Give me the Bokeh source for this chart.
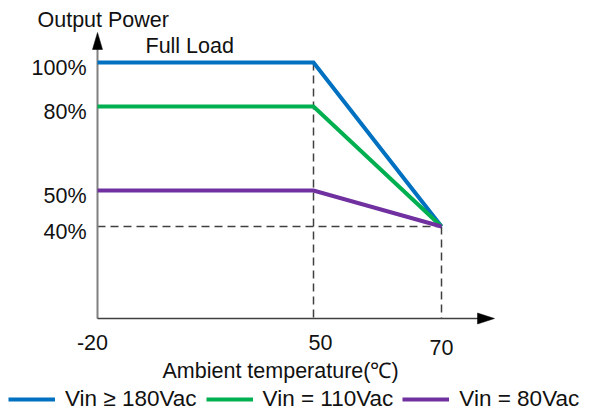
import numpy as np
from bokeh.plotting import figure
from bokeh.models import Range1d, Legend, LegendItem
from bokeh.core.properties import value
from bokeh.embed import file_html
from bokeh.resources import INLINE

# ---------------- data ----------------
temperature = [-20, 50, 70]
vin_180 = [100, 100, 40]
vin_110 = [80, 80, 40]
vin_80 = [50, 50, 40]
series_names = ["Vin \u2265 180Vac", "Vin = 110Vac", "Vin = 80Vac"]

x_ticks = [-20, 50, 70]
x_tick_labels = ["-20", "50", "70"]
y_ticks = [40, 50, 80, 100]
y_tick_labels = ["40%", "50%", "80%", "100%"]

y_title = "Output Power"
x_title = "Ambient temperature(\u2103)"
note = "Full Load"

# ---------------- layout / style (schematic, non-linear axes) ----------------
X_TICK_PX = [97, 313, 441]          # where each x tick sits on the picture
Y_TICK_PX = [226, 190, 106, 62]     # where each y tick sits on the picture
AXIS_Y = 318                        # row of the horizontal axis
X_AXIS_END = 494
Y_AXIS_END = 32
X_LABEL_DX = [-5, 7, 0]
X_LABEL_BASE = [342, 342, 347]
FONT = "Liberation Sans"
FS = "21.5px"
COLORS = ["#0070C0", "#00B050", "#7030A0"]


def sx(v):
    return np.interp(v, x_ticks, X_TICK_PX)


def sy(v):
    return np.interp(v, y_ticks, Y_TICK_PX)


p = figure(width=589, height=412, x_range=Range1d(0, 589), y_range=Range1d(412, 0),
           x_axis_type=None, y_axis_type=None, min_border=0,
           toolbar_location=None, output_backend="svg")
p.outline_line_color = None
p.background_fill_color = "white"

# dashed guide lines
t_knee, t_max = temperature[1], temperature[2]
p_min = vin_180[2]
p.segment(x0=[sx(t_knee), sx(t_max), sx(temperature[0])],
          y0=[sy(vin_180[1]), sy(p_min), sy(p_min)],
          x1=[sx(t_knee), sx(t_max), sx(t_max)],
          y1=[AXIS_Y, AXIS_Y, sy(p_min)],
          line_color="#404040", line_width=1.5, line_dash="8 5")

# axes
x0 = sx(temperature[0])
p.segment(x0=[x0], y0=[AXIS_Y], x1=[x0], y1=[Y_AXIS_END + 10], line_color="#808080", line_width=2)
p.segment(x0=[x0], y0=[AXIS_Y], x1=[X_AXIS_END - 10], y1=[AXIS_Y], line_color="#404040", line_width=1.5)
p.patches(xs=[[x0, x0 - 5, x0 + 5], [X_AXIS_END, X_AXIS_END - 17, X_AXIS_END - 17]],
          ys=[[Y_AXIS_END, Y_AXIS_END + 17, Y_AXIS_END + 17], [AXIS_Y, AXIS_Y - 5.5, AXIS_Y + 5.5]],
          fill_color="black", line_color="black", line_width=0.5)

# series
renderers = []
for vals, c in zip([vin_180, vin_110, vin_80], COLORS):
    r = p.line(x=sx(temperature), y=sy(vals), line_color=c, line_width=4, line_join="miter")
    renderers.append(r)

# tick labels
p.text(x=[86] * len(y_ticks), y=[sy(v) + 5 for v in y_ticks], text=y_tick_labels,
       text_font=value(FONT), text_font_size=FS, text_align="right",
       text_baseline="alphabetic", text_color="#111111")
p.text(x=[sx(v) + d for v, d in zip(x_ticks, X_LABEL_DX)], y=X_LABEL_BASE, text=x_tick_labels,
       text_font=value(FONT), text_font_size=FS, text_align="center",
       text_baseline="alphabetic", text_color="#111111")

# titles
p.text(x=[37], y=[19], text=[y_title], text_font=value(FONT), text_font_size=FS,
       text_align="left", text_baseline="alphabetic", text_color="#111111")
p.text(x=[145], y=[45], text=[note], text_font=value(FONT), text_font_size=FS,
       text_align="left", text_baseline="alphabetic", text_color="#111111")
p.text(x=[162], y=[370], text=[x_title], text_font=value(FONT), text_font_size=FS,
       text_align="left", text_baseline="alphabetic", text_color="#111111")

legend = Legend(items=[LegendItem(label=n, renderers=[r]) for n, r in zip(series_names, renderers)],
                orientation="horizontal", location=(8, 0), glyph_width=47, glyph_height=20,
                label_standoff=10, spacing=9, padding=0, margin=0,
                border_line_color=None, background_fill_alpha=0,
                label_text_font=FONT, label_text_font_size="22.5px", label_text_color="#111111")
p.add_layout(legend)

open("out.html", "w").write(file_html(p, INLINE))
